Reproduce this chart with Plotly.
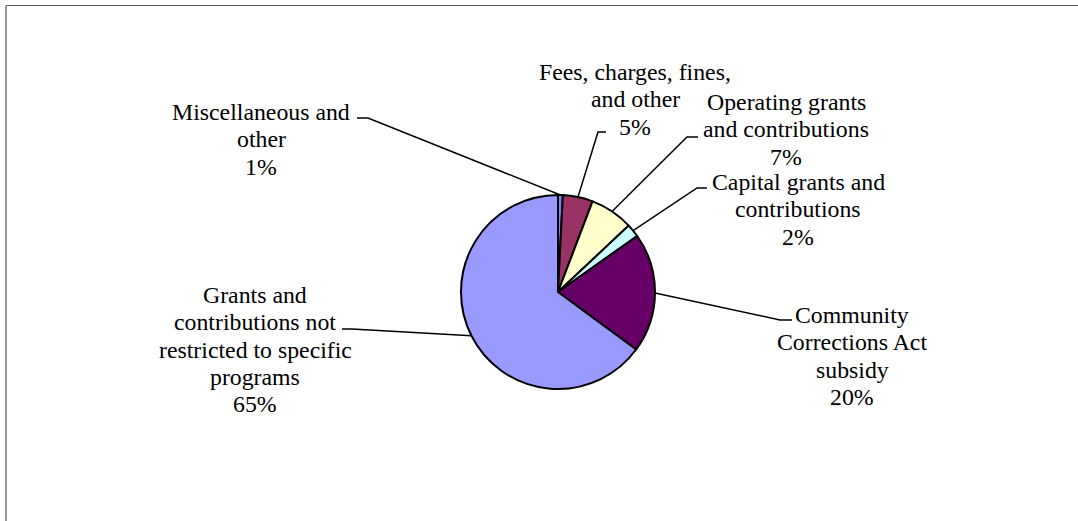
import math
import plotly.graph_objects as go

# ---- data ----
categories = ["Miscellaneous and other", "Fees, charges, fines, and other",
              "Operating grants and contributions", "Capital grants and contributions",
              "Community Corrections Act subsidy",
              "Grants and contributions not restricted to specific programs"]
values = [0.8, 5.0, 7.2, 2.2, 19.9, 64.9]
label_lines = [
    ["Miscellaneous and", "other", "1%"],
    ["Fees, charges, fines,", "and other", "5%"],
    ["Operating grants", "and contributions", "7%"],
    ["Capital grants and", "contributions", "2%"],
    ["Community", "Corrections Act", "subsidy", "20%"],
    ["Grants and", "contributions not", "restricted to specific", "programs", "65%"],
]
colors = ["#8080FF", "#993366", "#FFFFCC", "#CCFFFF", "#660066", "#9999FF"]

# ---- layout (pixels) ----
W, H = 1078, 521
CX, CY, R = 558, 292, 97
FONT = "Times New Roman, Liberation Serif, serif"
FS = 23.8
LINE_H = 27.3
# text block centre x, first-line centre y
text_pos = [(261, 112), (635, 72), (786, 102), (798, 182), (852, 315), (255, 295)]
# leader: (outer end x, elbow x, y)
leaders = [(357, 368, 118), (606, 598, 132), (698, 687, 137),
           (707, 697, 188), (792, 780, 320), (342, 352, 329)]


def px(x):
    return x / W


def py(y):
    return 1 - y / H


fig = go.Figure(go.Pie(
    labels=categories, values=values, sort=False, direction="clockwise",
    rotation=0, textinfo="none", hoverinfo="label+percent",
    marker=dict(colors=colors, line=dict(color="black", width=2)),
    domain=dict(x=[px(CX - R), px(CX + R)], y=[py(CY + R), py(CY - R)]),
    showlegend=False,
))

annotations = []
shapes = []
total = sum(values)
cum = 0.0
for i, v in enumerate(values):
    mid = (cum + v / 2) / total * 2 * math.pi
    cum += v
    ex = CX + R * math.sin(mid)
    ey = CY - R * math.cos(mid)
    x0, xe, ly = leaders[i]
    path = f"M {px(x0)},{py(ly)} L {px(xe)},{py(ly)} L {px(ex)},{py(ey)}"
    shapes.append(dict(type="path", xref="paper", yref="paper", path=path,
                       line=dict(color="black", width=1.5)))
    tx, ty = text_pos[i]
    for k, t in enumerate(label_lines[i]):
        annotations.append(dict(x=px(tx), y=py(ty + k * LINE_H), xref="paper", yref="paper",
                                text=t, showarrow=False, xanchor="center", yanchor="middle",
                                font=dict(family=FONT, size=FS, color="black")))

# chart border
shapes.append(dict(type="line", xref="paper", yref="paper", x0=px(6), x1=1, y0=py(5.5), y1=py(5.5),
                   line=dict(color="#555555", width=1)))
shapes.append(dict(type="line", xref="paper", yref="paper", x0=px(6), x1=px(6), y0=py(5), y1=0,
                   line=dict(color="#999999", width=2)))

fig.update_layout(width=W, height=H, margin=dict(l=0, r=0, t=0, b=0),
                  paper_bgcolor="white", plot_bgcolor="white",
                  annotations=annotations, shapes=shapes)
fig.write_html("out.html")
